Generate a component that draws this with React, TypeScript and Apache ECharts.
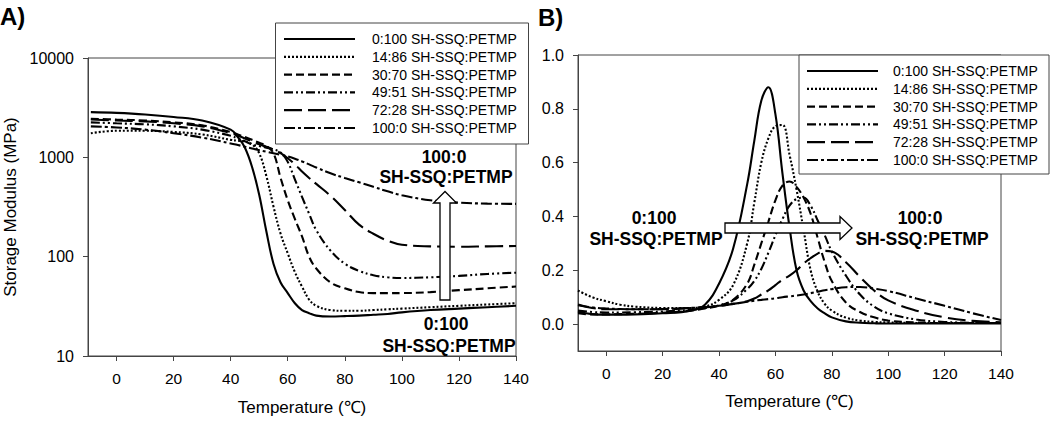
import React, { useEffect, useRef } from "react";
import * as echarts from "echarts";

// ---------- data ----------
const seriesNames = [
  "0:100 SH-SSQ:PETMP",
  "14:86 SH-SSQ:PETMP",
  "30:70 SH-SSQ:PETMP",
  "49:51 SH-SSQ:PETMP",
  "72:28 SH-SSQ:PETMP",
  "100:0 SH-SSQ:PETMP",
];

const xTicks = [0, 20, 40, 60, 80, 100, 120, 140];
const yTicksB = [0, 0.2, 0.4, 0.6, 0.8, 1.0];

// Panel A: storage modulus (MPa) vs temperature
const tempsA = [-9, 0, 10, 20, 30, 40, 42.5, 45, 47.5, 50, 52.5, 55, 57.5, 60, 62.5, 65, 67.5, 70, 75, 80, 85, 90, 95, 100, 110, 120, 130, 140];
const modA0 = [2850, 2800, 2700, 2550, 2350, 1900, 1600, 1250, 800, 420, 180, 85, 55, 43, 34, 29, 27, 25.5, 25, 25.2, 25.5, 26, 26.5, 27.5, 29, 30, 31, 32];
const modA14 = [1750, 1850, 1850, 1800, 1700, 1500, 1470, 1440, 1350, 1100, 650, 320, 170, 108, 70, 50, 37, 32, 29, 28.5, 28.5, 29, 29.5, 30, 31, 32, 33, 34];
const modA30 = [2450, 2400, 2350, 2250, 2100, 1800, 1700, 1600, 1500, 1400, 1300, 1100, 620, 370, 240, 160, 100, 76, 55, 48, 44, 43, 43, 43, 44, 46, 48, 50];
const modA49 = [2250, 2200, 2150, 2050, 1900, 1650, 1550, 1450, 1350, 1300, 1250, 1200, 1120, 900, 600, 400, 270, 185, 115, 85, 72, 65, 62, 61, 62, 64, 67, 69];
const modA72 = [2400, 2350, 2300, 2200, 2050, 1750, 1650, 1550, 1450, 1350, 1280, 1200, 1100, 980, 850, 720, 620, 540, 410, 295, 210, 170, 145, 132, 127, 126, 127, 128];
const modA100 = [2050, 2000, 1900, 1750, 1580, 1380, 1330, 1280, 1230, 1180, 1140, 1100, 1060, 1020, 970, 910, 850, 790, 690, 620, 560, 505, 455, 415, 370, 350, 342, 340];

// Panel B: tan delta vs temperature
const tempsB = [-10, -5, 0, 5, 10, 20, 30, 35, 40, 45, 50, 52.5, 55, 57.5, 60, 62.5, 65, 67.5, 70, 72.5, 75, 77.5, 80, 85, 90, 95, 100, 110, 120, 130, 140];
const tanB0 = [0.045, 0.037, 0.035, 0.035, 0.036, 0.04, 0.05, 0.072, 0.15, 0.28, 0.52, 0.68, 0.83, 0.88, 0.78, 0.56, 0.36, 0.2, 0.125, 0.085, 0.058, 0.04, 0.025, 0.01, 0.005, 0.003, 0.002, 0.002, 0.002, 0.002, 0.002];
const tanB14 = [0.125, 0.1, 0.085, 0.072, 0.065, 0.06, 0.06, 0.065, 0.09, 0.145, 0.3, 0.45, 0.6, 0.69, 0.735, 0.74, 0.63, 0.5, 0.35, 0.2, 0.12, 0.075, 0.05, 0.024, 0.013, 0.008, 0.006, 0.004, 0.004, 0.004, 0.004];
const tanB30 = [0.04, 0.036, 0.036, 0.037, 0.038, 0.042, 0.05, 0.058, 0.068, 0.09, 0.15, 0.22, 0.3, 0.38, 0.46, 0.515, 0.53, 0.51, 0.47, 0.41, 0.32, 0.23, 0.16, 0.08, 0.045, 0.025, 0.013, 0.006, 0.004, 0.004, 0.004];
const tanB49 = [0.05, 0.045, 0.043, 0.043, 0.044, 0.047, 0.053, 0.06, 0.07, 0.088, 0.13, 0.16, 0.205, 0.265, 0.33, 0.39, 0.44, 0.465, 0.47, 0.44, 0.385, 0.33, 0.27, 0.18, 0.11, 0.065, 0.04, 0.017, 0.008, 0.005, 0.004];
const tanB72 = [0.073, 0.06, 0.055, 0.055, 0.055, 0.055, 0.06, 0.062, 0.068, 0.075, 0.085, 0.095, 0.11, 0.125, 0.145, 0.165, 0.18, 0.2, 0.225, 0.245, 0.262, 0.272, 0.27, 0.23, 0.175, 0.125, 0.088, 0.05, 0.025, 0.012, 0.007];
const tanB100 = [0.07, 0.062, 0.058, 0.056, 0.055, 0.056, 0.06, 0.063, 0.068, 0.075, 0.083, 0.087, 0.09, 0.093, 0.096, 0.1, 0.103, 0.106, 0.11, 0.115, 0.12, 0.126, 0.13, 0.137, 0.138, 0.132, 0.123, 0.095, 0.068, 0.04, 0.015];

const seriesA = [modA0, modA14, modA30, modA49, modA72, modA100];
const seriesB = [tanB0, tanB14, tanB30, tanB49, tanB72, tanB100];

// ---------- styles ----------
const dashes: (number[] | null)[] = [
  null,
  [2, 2],
  [8, 4],
  [9, 3, 2, 3, 2, 3],
  [18, 6],
  [11, 3, 3, 3],
];
const FONT = "'Liberation Sans', Arial, Helvetica, sans-serif";
const AXIS = "#444";

function pairs(t: number[], v: number[]) {
  return t.map((x, i) => [x, v[i]]);
}

function legendGraphics(boxX: number, boxY: number, boxW: number, boxH: number, lineX: number, lineW: number, textX: number, rowY: number, step: number) {
  const els: any[] = [
    {
      type: "rect",
      z: 100,
      shape: { x: boxX, y: boxY, width: boxW, height: boxH },
      style: { fill: "#fff", stroke: AXIS, lineWidth: 1 },
    },
  ];
  seriesNames.forEach((name, i) => {
    const y = rowY + i * step;
    els.push({
      type: "line",
      z: 101,
      shape: { x1: lineX, y1: y, x2: lineX + lineW, y2: y },
      style: { stroke: "#000", lineWidth: 2.2, lineDash: dashes[i] || undefined },
    });
    els.push({
      type: "text",
      z: 101,
      x: textX,
      y: y,
      style: {
        text: name,
        font: `14px ${FONT}`,
        fill: "#000",
        align: "left",
        verticalAlign: "middle",
        textAlign: "left",
        textVerticalAlign: "middle",
      },
    });
  });
  return els;
}

function boldText(text: string, x: number, y: number, size = 17.5) {
  return {
    type: "text",
    z: 110,
    x,
    y,
    style: {
      text,
      font: `bold ${size}px ${FONT}`,
      fill: "#000",
      align: "center",
      verticalAlign: "middle",
      textAlign: "center",
      textVerticalAlign: "middle",
    },
  };
}

export default function App() {
  const ref = useRef<HTMLDivElement>(null);

  useEffect(() => {
    if (!ref.current) return;
    const chart = echarts.init(ref.current, null, { renderer: "svg" });

    const mkSeries = (data: number[][], i: number, idx: number) => ({
      name: seriesNames[i],
      type: "line",
      xAxisIndex: idx,
      yAxisIndex: idx,
      data,
      symbol: "none",
      smooth: 0.4,
      z: 2,
      lineStyle: {
        color: "#000",
        width: 2.1,
        type: dashes[i] ? dashes[i] : "solid",
      },
    });

    const xAxisCommon = (gridIndex: number, nameGap: number) => ({
      gridIndex,
      type: "value",
      min: -10,
      max: 140,
      axisLine: { onZero: false, lineStyle: { color: AXIS, width: 1 } },
      axisTick: { customValues: xTicks, length: 5, lineStyle: { color: AXIS } },
      axisLabel: { customValues: xTicks, color: "#000", fontSize: 15.5, fontFamily: FONT, margin: 14 },
      splitLine: { show: false },
      name: "Temperature (\u2103)",
      nameLocation: "middle",
      nameGap,
      nameTextStyle: { fontSize: 17, color: "#000", fontFamily: FONT },
    });

    const option: any = {
      animation: false,
      textStyle: { fontFamily: FONT },
      grid: [
        { left: 88, top: 58, width: 428, height: 299, show: true, borderColor: AXIS, borderWidth: 1, backgroundColor: "transparent" },
        { left: 578, top: 55, width: 423, height: 296, show: true, borderColor: AXIS, borderWidth: 1, backgroundColor: "transparent" },
      ],
      xAxis: [xAxisCommon(0, 43), xAxisCommon(1, 42)],
      yAxis: [
        {
          gridIndex: 0,
          type: "log",
          logBase: 10,
          min: 10,
          max: 10000,
          axisLine: { show: true, onZero: false, lineStyle: { color: AXIS } },
          axisTick: { show: true, length: 5, lineStyle: { color: AXIS } },
          axisLabel: { color: "#000", fontSize: 16, fontFamily: FONT, margin: 14, formatter: (v: number) => String(Math.round(v)) },
          splitLine: { show: false },
          minorTick: { show: false },
          name: "Storage Modulus (MPa)",
          nameLocation: "middle",
          nameGap: 69,
          nameTextStyle: { fontSize: 17, color: "#000", fontFamily: FONT },
        },
        {
          gridIndex: 1,
          type: "value",
          min: -0.1,
          max: 1.0,
          axisLine: { show: true, onZero: false, lineStyle: { color: AXIS } },
          axisTick: { show: true, customValues: yTicksB, length: 5, lineStyle: { color: AXIS } },
          axisLabel: { customValues: yTicksB, color: "#000", fontSize: 16, fontFamily: FONT, margin: 14, formatter: (v: number) => v.toFixed(1) },
          splitLine: { show: false },
        },
      ],
      series: [
        ...seriesA.map((v, i) => mkSeries(pairs(tempsA, v), i, 0)),
        ...seriesB.map((v, i) => mkSeries(pairs(tempsB, v), i, 1)),
      ],
      graphic: [
        // panel labels
        {
          type: "text", z: 120, x: 0, y: 4,
          style: { text: "A)", font: `bold 24px ${FONT}`, fill: "#000", align: "left", verticalAlign: "top", textAlign: "left", textVerticalAlign: "top" },
        },
        {
          type: "text", z: 120, x: 538, y: 5,
          style: { text: "B)", font: `bold 24px ${FONT}`, fill: "#000", align: "left", verticalAlign: "top", textAlign: "left", textVerticalAlign: "top" },
        },
        // legends
        ...legendGraphics(275.5, 23, 253, 121, 284, 71, 372, 39, 17.8),
        ...legendGraphics(799, 55, 250, 119, 807, 71, 893, 71, 17.8),
        // panel A annotations
        boldText("100:0", 444, 157),
        boldText("SH-SSQ:PETMP", 446, 177),
        {
          type: "polygon", z: 110,
          shape: { points: [[440, 300], [450, 300], [450, 203], [456.5, 203], [445, 191.5], [433.5, 203], [440, 203]] },
          style: { fill: "#fff", stroke: "#000", lineWidth: 1.3 },
        },
        boldText("0:100", 446, 324),
        boldText("SH-SSQ:PETMP", 449, 346),
        // panel B annotations
        boldText("0:100", 654, 218),
        boldText("SH-SSQ:PETMP", 656, 239),
        {
          type: "polygon", z: 110,
          shape: { points: [[725, 223], [840, 223], [840, 216.5], [852, 228], [840, 239.5], [840, 233], [725, 233]] },
          style: { fill: "#fff", stroke: "#000", lineWidth: 1.3 },
        },
        boldText("100:0", 920, 218),
        boldText("SH-SSQ:PETMP", 922, 239),
      ],
    };

    chart.setOption(option);
    return () => {
      chart.dispose();
    };
  }, []);

  return (
    <div
      ref={ref}
      style={{ position: "absolute", left: 0, top: 0, width: 1050, height: 421, background: "#fff" }}
    />
  );
}
